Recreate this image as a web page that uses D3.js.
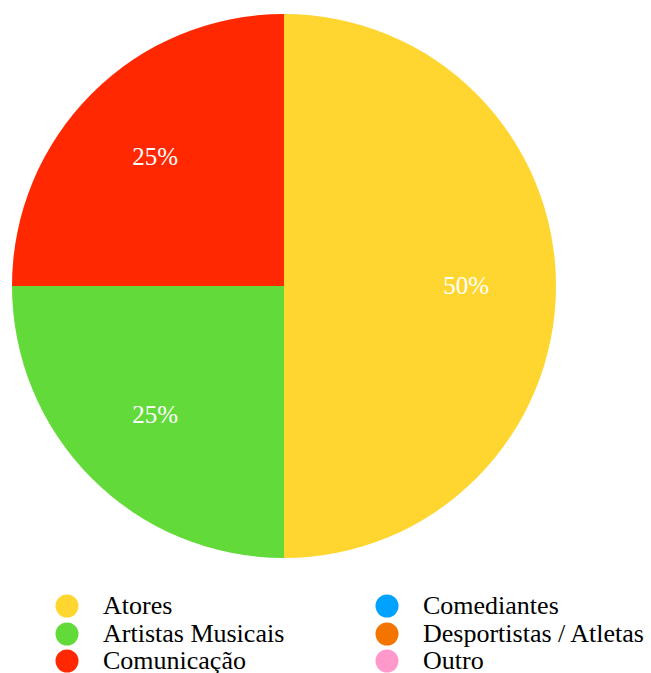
<!DOCTYPE html>
<html>
<head>
<meta charset="utf-8">
<script src="https://cdn.jsdelivr.net/npm/d3@7"></script>
<style>
  html, body { margin: 0; padding: 0; background: #fff; }
  svg { display: block; }
  svg text { font-family: "Liberation Serif", serif !important; }
</style>
</head>
<body>
<svg id="chart" width="651" height="673"></svg>
<script>
// Share of responses by category
const categories = ["Atores", "Artistas Musicais", "Comunicação", "Comediantes", "Desportistas / Atletas", "Outro"];
const values = [50, 25, 25, 0, 0, 0];
const colors = ["#FFD630", "#62DB3A", "#FF2800", "#00A2FF", "#F47400", "#FF99CC"];

const data = categories.map((c, i) => ({ name: c, value: values[i], color: colors[i] }));

const svg = d3.select("#chart");
const cx = 284, cy = 286, radius = 272;
const serif = "Liberation Serif";

const pie = d3.pie().value(d => d.value).sort(null);
const arc = d3.arc().innerRadius(0).outerRadius(radius);
const labelArc = d3.arc().innerRadius(radius * 0.67).outerRadius(radius * 0.67);
const total = d3.sum(values);

const g = svg.append("g").attr("transform", `translate(${cx},${cy})`);
const arcs = pie(data).filter(d => d.data.value > 0);

g.selectAll("path.slice")
  .data(arcs)
  .join("path")
  .attr("class", "slice")
  .attr("d", arc)
  .attr("fill", d => d.data.color);

g.selectAll("text.pct")
  .data(arcs)
  .join("text")
  .attr("class", "pct")
  .attr("transform", d => `translate(${labelArc.centroid(d)})`)
  .attr("text-anchor", "middle")
  .attr("dy", "0.33em")
  .attr("fill", "#fff")
  .attr("font-family", serif)
  .style("font-family", serif, "important")
  .attr("font-size", 25)
  .text(d => Math.round(d.data.value / total * 100) + "%");

// Legend: two columns of three
const legend = svg.append("g");
const colX = [67, 387], rowY = [606, 634, 661];
const items = legend.selectAll("g.item")
  .data(data)
  .join("g")
  .attr("class", "item")
  .attr("transform", (d, i) => `translate(${colX[Math.floor(i / 3)]},${rowY[i % 3]})`);

items.append("circle")
  .attr("r", 11.5)
  .attr("fill", d => d.color);

items.append("text")
  .attr("x", 36)
  .attr("dy", "0.29em")
  .attr("fill", "#000")
  .attr("font-family", serif)
  .style("font-family", serif, "important")
  .attr("font-size", 26)
  .text(d => d.name);
</script>
</body>
</html>
